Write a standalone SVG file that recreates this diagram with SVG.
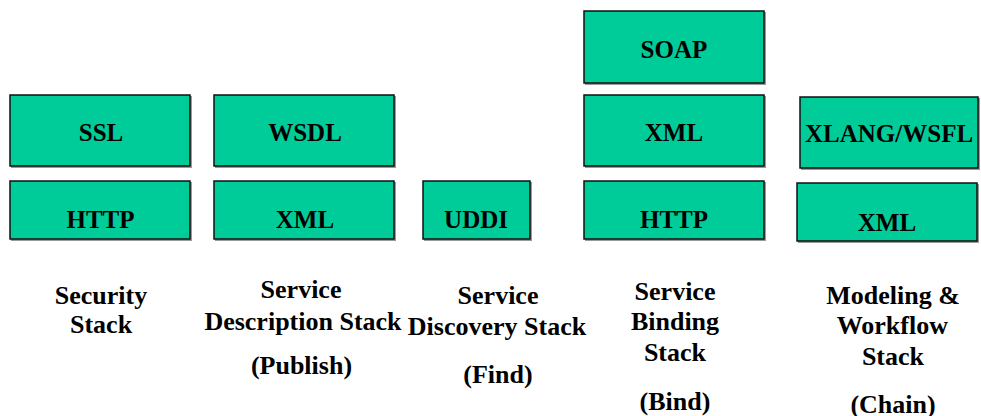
<svg xmlns="http://www.w3.org/2000/svg" width="981" height="416" viewBox="0 0 981 416">
<rect width="981" height="416" fill="#ffffff"/>
<g id="shadows" fill="#999999">
<rect x="11" y="96" width="181" height="72"/>
<rect x="11" y="182" width="181" height="59"/>
<rect x="215" y="96" width="181" height="72"/>
<rect x="215" y="182" width="181" height="59"/>
<rect x="424" y="182" width="108" height="59"/>
<rect x="585" y="12" width="181" height="73"/>
<rect x="585" y="96" width="181" height="72"/>
<rect x="585" y="182" width="181" height="59"/>
<rect x="801" y="98" width="179" height="72"/>
<rect x="798" y="184" width="181" height="59"/>
</g>
<g id="nodes">
<g id="ssl"><rect x="10" y="95" width="180" height="71" fill="#00CC99" stroke="#111111" stroke-width="1.5"/><text x="78.8" y="141" font-family="Liberation Serif" font-weight="bold" font-size="25">SSL</text></g>
<g id="http1"><rect x="10" y="181" width="180" height="58" fill="#00CC99" stroke="#111111" stroke-width="1.5"/><text x="66.5" y="228" font-family="Liberation Serif" font-weight="bold" font-size="25">HTTP</text></g>
<g id="wsdl"><rect x="214" y="95" width="180" height="71" fill="#00CC99" stroke="#111111" stroke-width="1.5"/><text x="268.2" y="141" font-family="Liberation Serif" font-weight="bold" font-size="25">WSDL</text></g>
<g id="xml1"><rect x="214" y="181" width="180" height="58" fill="#00CC99" stroke="#111111" stroke-width="1.5"/><text x="275.8" y="228" font-family="Liberation Serif" font-weight="bold" font-size="25">XML</text></g>
<g id="uddi"><rect x="423" y="181" width="107" height="58" fill="#00CC99" stroke="#111111" stroke-width="1.5"/><text x="444.1" y="228" font-family="Liberation Serif" font-weight="bold" font-size="25">UDDI</text></g>
<g id="soap"><rect x="584" y="11" width="180" height="72" fill="#00CC99" stroke="#111111" stroke-width="1.5"/><text x="640.6" y="58" font-family="Liberation Serif" font-weight="bold" font-size="25">SOAP</text></g>
<g id="xml2"><rect x="584" y="95" width="180" height="71" fill="#00CC99" stroke="#111111" stroke-width="1.5"/><text x="644.8" y="141" font-family="Liberation Serif" font-weight="bold" font-size="25">XML</text></g>
<g id="http2"><rect x="584" y="181" width="180" height="58" fill="#00CC99" stroke="#111111" stroke-width="1.5"/><text x="640" y="228" font-family="Liberation Serif" font-weight="bold" font-size="25">HTTP</text></g>
<g id="xlang"><rect x="800" y="97" width="178" height="71" fill="#00CC99" stroke="#111111" stroke-width="1.5"/><text x="805" y="142" font-family="Liberation Serif" font-weight="bold" font-size="25">XLANG/WSFL</text></g>
<g id="xml3"><rect x="797" y="183" width="180" height="58" fill="#00CC99" stroke="#111111" stroke-width="1.5"/><text x="857.8" y="231" font-family="Liberation Serif" font-weight="bold" font-size="25">XML</text></g>
</g>
<g id="labels">
<text x="54.8" y="304" font-family="Liberation Serif" font-weight="bold" font-size="26">Security</text>
<text x="70" y="333" font-family="Liberation Serif" font-weight="bold" font-size="26">Stack</text>
<text x="260.6" y="297.5" font-family="Liberation Serif" font-weight="bold" font-size="26">Service</text>
<text x="204.4" y="329.5" font-family="Liberation Serif" font-weight="bold" font-size="26">Description Stack</text>
<text x="250.9" y="374" font-family="Liberation Serif" font-weight="bold" font-size="26">(Publish)</text>
<text x="457.6" y="304" font-family="Liberation Serif" font-weight="bold" font-size="26">Service</text>
<text x="407.8" y="335" font-family="Liberation Serif" font-weight="bold" font-size="26">Discovery Stack</text>
<text x="463.3" y="383" font-family="Liberation Serif" font-weight="bold" font-size="26">(Find)</text>
<text x="634.6" y="300" font-family="Liberation Serif" font-weight="bold" font-size="26">Service</text>
<text x="630.9" y="330" font-family="Liberation Serif" font-weight="bold" font-size="26">Binding</text>
<text x="643.9" y="361" font-family="Liberation Serif" font-weight="bold" font-size="26">Stack</text>
<text x="639.6" y="410" font-family="Liberation Serif" font-weight="bold" font-size="26">(Bind)</text>
<text x="826.2" y="304" font-family="Liberation Serif" font-weight="bold" font-size="26">Modeling &amp;</text>
<text x="836.7" y="334" font-family="Liberation Serif" font-weight="bold" font-size="26">Workflow</text>
<text x="861.9" y="365" font-family="Liberation Serif" font-weight="bold" font-size="26">Stack</text>
<text x="850.4" y="413" font-family="Liberation Serif" font-weight="bold" font-size="26">(Chain)</text>
</g>
</svg>
